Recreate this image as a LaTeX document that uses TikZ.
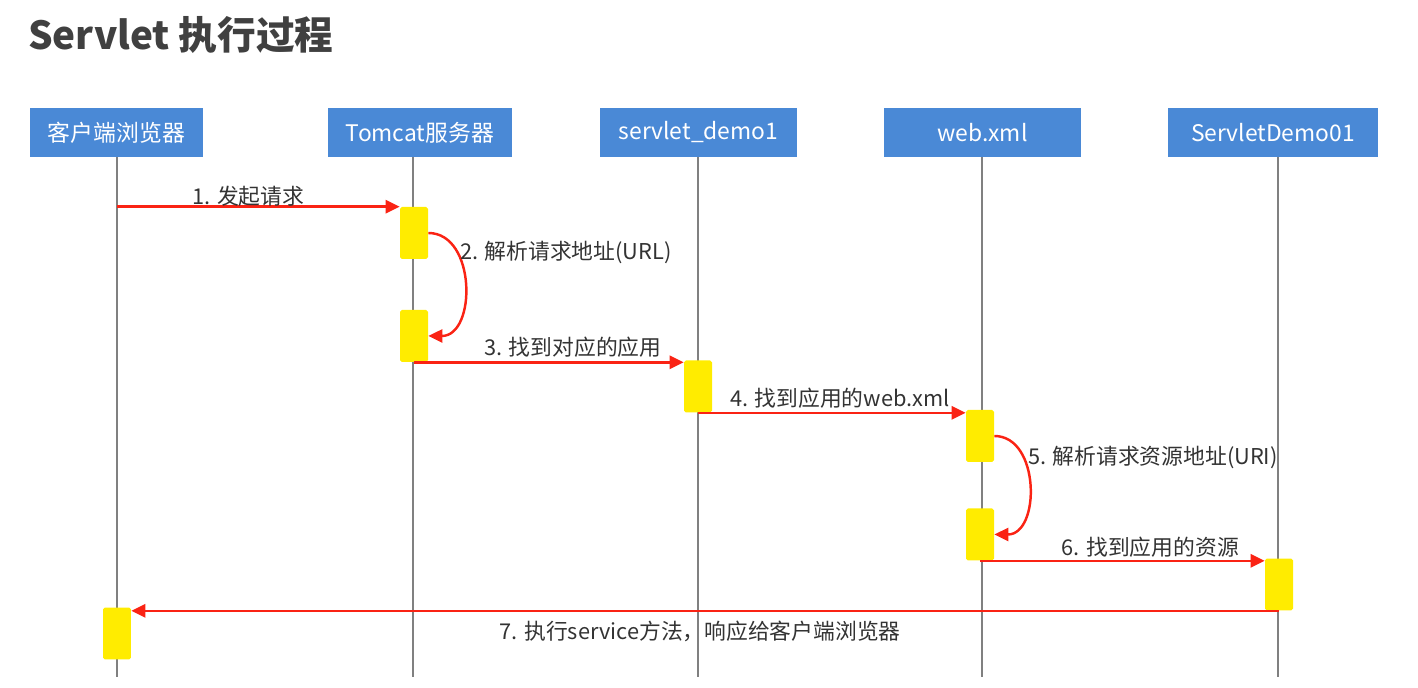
\documentclass[tikz,border=0pt]{standalone}
\usepackage{fontspec}
\setmainfont{Noto Sans CJK SC}
\usepackage{xcolor}
\usepackage{tikz}
\usetikzlibrary{arrows.meta, positioning}

\definecolor{hdrblue}{RGB}{74,137,214}
\definecolor{actyellow}{RGB}{255,236,0}
\definecolor{msgred}{RGB}{250,35,20}
\definecolor{lifegray}{RGB}{128,128,128}
\definecolor{txtgray}{RGB}{51,51,51}
\definecolor{titlegray}{RGB}{64,64,64}

\tikzset{
    header/.style={fill=hdrblue, text=white, minimum height=0.98cm, inner sep=0pt,
        font=\fontsize{13}{15}\selectfont},
    lifeline/.style={draw=lifegray, line width=1pt},
    activation/.style={fill=actyellow, minimum width=0.56cm, minimum height=1.04cm,
        inner sep=0pt, rounded corners=1pt},
    message/.style={draw=msgred, line width=1.4pt, -{Triangle[length=8pt,width=7.5pt]}},
    msglabel/.style={text=txtgray, inner sep=1pt, font=\fontsize{12.4}{14}\selectfont},
}

\begin{document}
\begin{tikzpicture}[x=0.02cm, y=-0.02cm]
    \useasboundingbox (0,0) rectangle (1418,688);

    \node[anchor=west, text=titlegray, font=\fontsize{22}{26}\selectfont\bfseries] (title) at (22,35) {Servlet 执行过程};

    % participants
    \node[header, minimum width=3.46cm] (client) at (116.5,132.5) {客户端浏览器};
    \node[header, minimum width=3.68cm] (tomcat) at (420,132.5) {Tomcat服务器};
    \node[header, minimum width=3.94cm] (demo) at (698.5,132.5) {servlet\_demo1};
    \node[header, minimum width=3.94cm] (webxml) at (982.5,132.5) {web.xml};
    \node[header, minimum width=4.20cm] (servlet) at (1273,132.5) {ServletDemo01};

    \coordinate (clientEnd) at (117,677);
    \coordinate (tomcatEnd) at (413,677);
    \coordinate (demoEnd) at (698,677);
    \coordinate (webxmlEnd) at (982,677);
    \coordinate (servletEnd) at (1278,677);

    \draw[lifeline] (client.south -| clientEnd) -- (clientEnd);
    \draw[lifeline] (tomcat.south -| tomcatEnd) -- (tomcatEnd);
    \draw[lifeline] (demo.south -| demoEnd) -- (demoEnd);
    \draw[lifeline] (webxml.south -| webxmlEnd) -- (webxmlEnd);
    \draw[lifeline] (servlet.south -| servletEnd) -- (servletEnd);

    % activations
    \node[activation] (tomcatA) at (414,233) {};
    \node[activation] (tomcatB) at (414,336) {};
    \node[activation] (demoA) at (698,386.5) {};
    \node[activation] (webxmlA) at (980,436) {};
    \node[activation] (webxmlB) at (980,534.5) {};
    \node[activation] (servletA) at (1279,584.5) {};
    \node[activation] (clientA) at (117,633.5) {};

    % messages
    \draw[message] (clientEnd |- tomcatA.north) -- (tomcatA.north west)
        node[msglabel, midway, xshift=-0.2cm, yshift=0.21cm] {1. 发起请求};
    \draw[message] (tomcatA.east) to[out=0, in=0, looseness=1.2] (tomcatB.east);
    \node[msglabel, anchor=west] (lblParse) at (458,252) {2. 解析请求地址(URL)};
    \draw[message] (tomcatB.south) -- (tomcatB.south -| demoA.west)
        node[msglabel, midway, xshift=0.48cm, yshift=0.31cm] {3. 找到对应的应用};
    \draw[message] (demoA.south) -- (demoA.south -| webxmlA.west)
        node[msglabel, midway, xshift=0.16cm, yshift=0.29cm] {4. 找到应用的web.xml};
    \draw[message] (webxmlA.east) to[out=0, in=0, looseness=1.2] (webxmlB.east);
    \node[msglabel, anchor=west] (lblResolve) at (1026,457) {5. 解析请求资源地址(URI)};
    \draw[message] (webxmlB.south) -- (webxmlB.south -| servletA.west)
        node[msglabel, midway, xshift=0.56cm, yshift=0.27cm] {6. 找到应用的资源};
    \draw[message] (servletA.south) -- (servletA.south -| clientA.east)
        node[msglabel, midway, xshift=-0.1cm, yshift=-0.42cm] {7. 执行service方法，响应给客户端浏览器};
\end{tikzpicture}
\end{document}
